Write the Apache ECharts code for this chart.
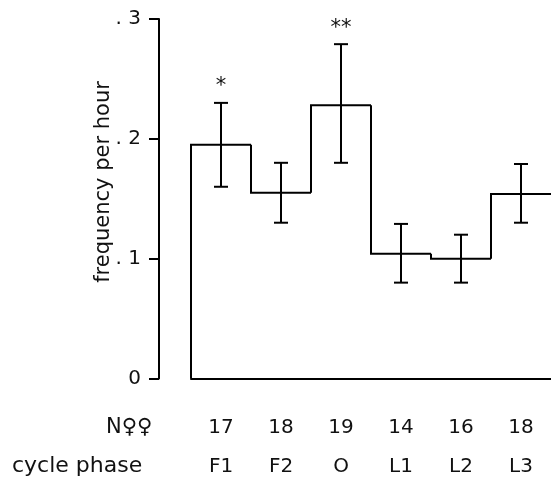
<!DOCTYPE html>
<html><head><meta charset="utf-8">
<script src="https://cdn.jsdelivr.net/npm/echarts@6/dist/echarts.min.js"></script>
<style>html,body{margin:0;padding:0;background:#fff}#c{width:551px;height:477px}</style>
</head><body><div id="c"></div>
<script>
var phases = ['F1','F2','O','L1','L2','L3'];
var nFemales = ['17','18','19','14','16','18'];
var means = [0.195, 0.155, 0.228, 0.104, 0.100, 0.154];
var errLow = [0.160, 0.130, 0.180, 0.080, 0.080, 0.130];
var errHigh = [0.230, 0.180, 0.279, 0.129, 0.120, 0.179];
var stars = ['*','','**','','',''];
var yTitle = 'frequency per hour';

var font = 'DejaVu Sans';
var chart = echarts.init(document.getElementById('c'));
var stepData = means.map(function(v,i){return [i,v];});
var errData = means.map(function(v,i){return [i,v,errLow[i],errHigh[i]];});

chart.setOption({
  animation:false,
  grid:{left:191, top:19, width:368, bottom:91},
  xAxis:{type:'category', data:phases, boundaryGap:true,
    axisLine:{show:true, lineStyle:{color:'#000', width:2}},
    axisTick:{show:false},
    axisLabel:{interval:0, margin:30, fontFamily:font, color:'#111',
      formatter:function(v,i){return '{a|'+nFemales[i]+'}\n{b|'+v+'}';},
      rich:{a:{fontFamily:font,fontSize:20,lineHeight:39,color:'#111'},b:{fontFamily:font,fontSize:20,lineHeight:39,color:'#111'}}},
    splitLine:{show:false}},
  yAxis:{type:'value', min:0, max:0.3, interval:0.1, offset:32,
    axisLine:{show:true, lineStyle:{color:'#000', width:2}},
    axisTick:{show:true, length:10, lineStyle:{color:'#000', width:2}},
    axisLabel:{margin:18, fontFamily:font, fontSize:20, color:'#111',
      formatter:function(v){ if(Math.abs(v)<1e-9) return '0'; return '. '+Math.round(v*10);} },
    splitLine:{show:false}},
  graphic:[
    {type:'text', x:104, y:182, rotation:Math.PI/2, style:{text:yTitle, font:'21px '+font, fill:'#111', align:'center', verticalAlign:'middle'}},
    {type:'text', left:106, top:417, style:{text:'N\u2640\u2640', font:'21px '+font, fill:'#111'}},
    {type:'text', left:12, top:455, style:{text:'cycle phase', font:'22px '+font, fill:'#111'}}
  ],
  series:[
    {type:'custom', data:stepData, clip:false,
      renderItem:function(params, api){
        var i = api.value(0), v = api.value(1);
        var c = api.coord([i, v]);
        var bw = api.size([1,0])[0];
        var prev = i===0 ? 0 : means[i-1];
        var yp = api.coord([i, prev])[1];
        var l = c[0]-bw/2, r = c[0]+bw/2;
        if(i===means.length-1) r = r + 10;
        return {type:'polyline', shape:{points:[[l,yp],[l,c[1]],[r,c[1]]]},
          style:{stroke:'#000', lineWidth:2, fill:null}};
      }},
    {type:'custom', data:errData, clip:false,
      renderItem:function(params, api){
        var i = api.value(0);
        var lo = api.coord([i, api.value(2)]);
        var hi = api.coord([i, api.value(3)]);
        var x = lo[0], cap = 7;
        var children = [
          {type:'line', shape:{x1:x,y1:lo[1],x2:x,y2:hi[1]}, style:{stroke:'#000',lineWidth:2}},
          {type:'line', shape:{x1:x-cap,y1:lo[1],x2:x+cap,y2:lo[1]}, style:{stroke:'#000',lineWidth:2}},
          {type:'line', shape:{x1:x-cap,y1:hi[1],x2:x+cap,y2:hi[1]}, style:{stroke:'#000',lineWidth:2}}
        ];
        if(stars[i]) children.push({type:'text', style:{text:stars[i], x:x, y:hi[1]-16, align:'center', verticalAlign:'middle', font:'21px '+font, fill:'#111'}});
        return {type:'group', children:children};
      }}
  ]
});
</script></body></html>
